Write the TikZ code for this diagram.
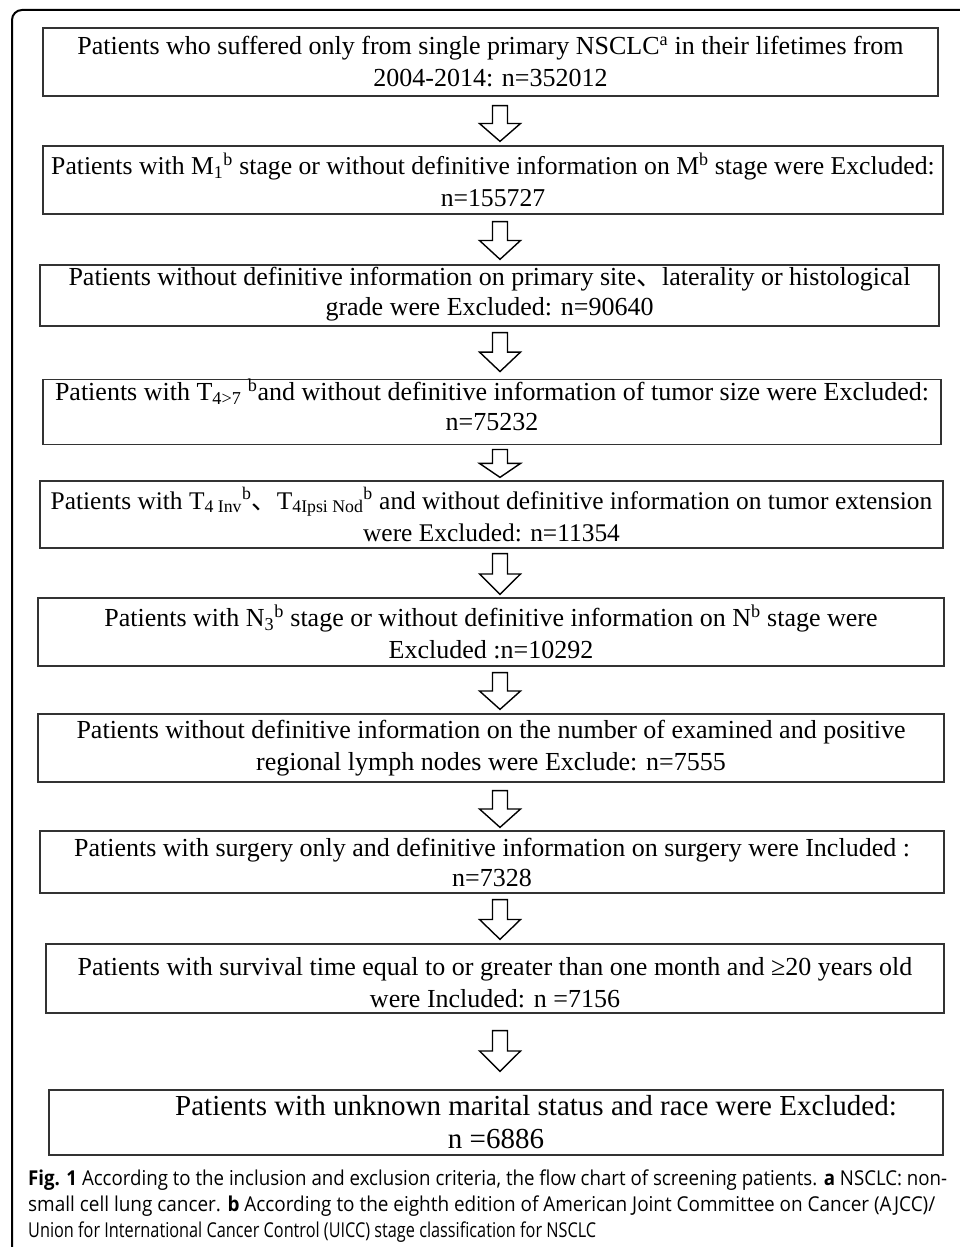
\documentclass[tikz,border=0pt]{standalone}
\usepackage{fontspec}
\usepackage{graphicx}
\setmainfont{Liberation Serif}
\newfontfamily\capfont{Open Sans}
\newfontfamily\cjk{Noto Sans CJK SC}
\usetikzlibrary{calc}
\newcommand\capsize{\capfont\fontsize{20.5}{27}\selectfont}
\newcommand\blkarrow[4]{%
  \draw[harrow] let \p1=(#1.south), \p2=(#2.north),
     \n1={\y1-#3pt}, \n2={\y2+#4pt}, \n3={0.5*(\n1+\n2)} in
     (492.5pt,\n1) -- (507.5pt,\n1) -- (507.5pt,\n3) -- (520.5pt,\n3) -- (500pt,\n2)
     -- (479.5pt,\n3) -- (492.5pt,\n3) -- cycle;}
\begin{document}
\begin{tikzpicture}[x=1pt,y=-1pt,
  box/.style={draw=black!80, line width=1.3pt, inner sep=0pt, align=center,
    font=\fontsize{26}{32}\selectfont},
  harrow/.style={draw=black, line width=1.4pt, fill=white, line join=miter},
  capline/.style={anchor=base west, inner sep=0pt}]
\useasboundingbox (0,0) rectangle (959,1247);
\fill[white] (0,0) rectangle (959,1247);
\draw[line width=2pt, rounded corners=10pt] (12,1250) -- (12,10) -- (962,10);

\node[box, minimum width=895, minimum height=68] (b1) at (490.5,62)
 {Patients who suffered only from single primary NSCLC\textsuperscript{a} in their lifetimes from\\2004-2014: n=352012};
\node[box, minimum width=900, minimum height=68, font=\fontsize{25.7}{32}\selectfont] (b2) at (493,180)
 {Patients with M\textsubscript{1}\textsuperscript{b} stage or without definitive information on M\textsuperscript{b} stage were Excluded:\\n=155727};
\node[box, minimum width=899, minimum height=61, font=\fontsize{26}{30}\selectfont, text depth=9pt] (b3) at (489.5,295.5)
 {Patients without definitive information on primary site{\cjk 、}laterality or histological\\grade were Excluded: n=90640};
\node[box, minimum width=898, minimum height=58, font=\fontsize{26}{30}\selectfont, text depth=14pt] (b4) at (492,412)
 {Patients with T\textsubscript{4>7} \textsuperscript{b}and without definitive information of tumor size were Excluded:\\n=75232};
\node[box, minimum width=903, minimum height=67, font=\fontsize{25.4}{32}\selectfont] (b5) at (491.5,514.5)
 {Patients with T\textsubscript{4 Inv}\textsuperscript{b}{\cjk 、}T\textsubscript{4Ipsi Nod}\textsuperscript{b} and without definitive information on tumor extension\\were Excluded: n=11354};
\node[box, minimum width=906, minimum height=68] (b6) at (491,632)
 {Patients with N\textsubscript{3}\textsuperscript{b} stage or without definitive information on N\textsuperscript{b} stage were\\Excluded :n=10292};
\node[box, minimum width=906, minimum height=68] (b7) at (491,748)
 {Patients without definitive information on the number of examined and positive\\regional lymph nodes were Exclude: n=7555};
\node[box, minimum width=904, minimum height=62, font=\fontsize{26}{30}\selectfont] (b8) at (492,862)
 {Patients with surgery only and definitive information on surgery were Included :\\n=7328};
\node[box, minimum width=898, minimum height=69, text height=59pt] (b9) at (495,978.5)
 {Patients with survival time equal to or greater than one month and ≥20 years old\\were Included: n =7156};
\node[box, minimum width=894, minimum height=65, font=\fontsize{29}{33}\selectfont] (b10) at (496,1122.5)
 {\hspace*{80pt}Patients with unknown marital status and race were Excluded:\\n =6886};

\blkarrow{b1}{b2}{9}{4}
\blkarrow{b2}{b3}{7}{5}
\blkarrow{b3}{b4}{6}{7}
\blkarrow{b4}{b5}{4}{3}
\blkarrow{b5}{b6}{5}{3}
\blkarrow{b6}{b7}{6}{4}
\blkarrow{b7}{b8}{8}{3}
\blkarrow{b8}{b9}{6}{4}
\blkarrow{b9}{b10}{17}{18}

\node[capline] (c1) at (28,1185)
 {\resizebox{919pt}{\height}{\capsize\textbf{Fig. 1} According to the inclusion and exclusion criteria, the flow chart of screening patients. \textbf{a} NSCLC: non-}};
\node[capline] (c2) at (28,1211)
 {\resizebox{907pt}{\height}{\capsize small cell lung cancer. \textbf{b} According to the eighth edition of American Joint Committee on Cancer (AJCC)/}};
\node[capline] (c3) at (28,1237)
 {\resizebox{568pt}{\height}{\capsize Union for International Cancer Control (UICC) stage classification for NSCLC}};
\end{tikzpicture}
\end{document}
